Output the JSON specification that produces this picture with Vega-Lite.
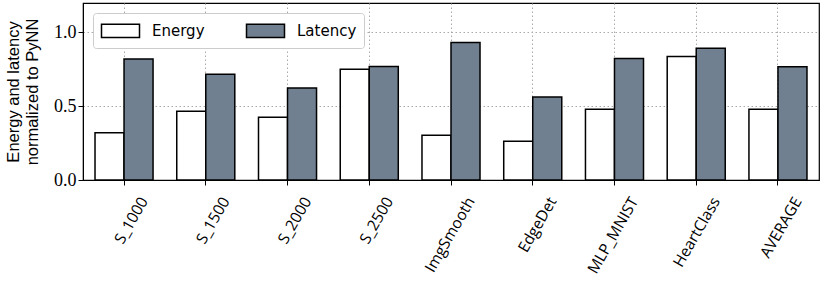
{
  "$schema": "https://vega.github.io/schema/vega-lite/v6.json",
  "width": 736,
  "height": 177,
  "autosize": {"type": "none"},
  "padding": {"left": 83, "top": 3, "right": 3, "bottom": 109},
  "background": "white",
  "config": {
    "view": {"stroke": "black", "strokeWidth": 1.2},
    "font": "DejaVu Sans"
  },
  "data": {
    "values": [
      {"bench": "S_1000", "metric": "Energy", "value": 0.32},
      {"bench": "S_1000", "metric": "Latency", "value": 0.82},
      {"bench": "S_1500", "metric": "Energy", "value": 0.466},
      {"bench": "S_1500", "metric": "Latency", "value": 0.717},
      {"bench": "S_2000", "metric": "Energy", "value": 0.425},
      {"bench": "S_2000", "metric": "Latency", "value": 0.624},
      {"bench": "S_2500", "metric": "Energy", "value": 0.751},
      {"bench": "S_2500", "metric": "Latency", "value": 0.769},
      {"bench": "ImgSmooth", "metric": "Energy", "value": 0.303},
      {"bench": "ImgSmooth", "metric": "Latency", "value": 0.932},
      {"bench": "EdgeDet", "metric": "Energy", "value": 0.263},
      {"bench": "EdgeDet", "metric": "Latency", "value": 0.563},
      {"bench": "MLP_MNIST", "metric": "Energy", "value": 0.48},
      {"bench": "MLP_MNIST", "metric": "Latency", "value": 0.824},
      {"bench": "HeartClass", "metric": "Energy", "value": 0.837},
      {"bench": "HeartClass", "metric": "Latency", "value": 0.893},
      {"bench": "AVERAGE", "metric": "Energy", "value": 0.48},
      {"bench": "AVERAGE", "metric": "Latency", "value": 0.767}
    ]
  },
  "mark": {"type": "bar", "stroke": "black", "strokeWidth": 1.5},
  "encoding": {
    "x": {
      "field": "bench",
      "type": "nominal",
      "sort": null,
      "scale": {"paddingInner": 0.29, "paddingOuter": 0.147},
      "axis": {
        "title": null,
        "labelAngle": -60,
        "labelAlign": "right",
        "labelBaseline": "middle",
        "labelOffset": 20,
        "labelPadding": 13,
        "labelFontSize": 15.5,
        "labelColor": "black",
        "labelFont": "Open Sans",
        "domainColor": "black",
        "tickColor": "black",
        "tickSize": 5,
        "bandPosition": 0.5,
        "grid": true,
        "gridColor": "#aaaaaa",
        "gridDash": [1.5, 2.5],
        "gridWidth": 1
      }
    },
    "xOffset": {"field": "metric", "type": "nominal", "sort": ["Energy", "Latency"]},
    "y": {
      "field": "value",
      "type": "quantitative",
      "scale": {"domain": [0, 1.2], "nice": false},
      "axis": {
        "title": ["Energy and latency", "normalized to PyNN"],
        "titleFont": "Liberation Sans",
        "titleFontSize": 16.5,
        "titleFontWeight": "normal",
        "titleColor": "black",
        "titlePadding": 13,
        "titleLineHeight": 19,
        "values": [0, 0.5, 1.0],
        "format": ".1f",
        "labelFont": "Liberation Serif",
        "labelFontSize": 18,
        "labelColor": "black",
        "domainColor": "black",
        "tickColor": "black",
        "tickSize": 5,
        "grid": true,
        "gridColor": "#aaaaaa",
        "gridDash": [1.5, 2.5],
        "gridWidth": 1
      }
    },
    "fill": {
      "field": "metric",
      "type": "nominal",
      "scale": {"domain": ["Energy", "Latency"], "range": ["white", "#708090"]},
      "legend": {
        "title": null,
        "orient": "top-left",
        "offset": 10,
        "direction": "horizontal",
        "columns": 2,
        "columnPadding": 38,
        "symbolType": "M-2,-0.7h4v1.4h-4z",
        "symbolSize": 361,
        "symbolOffset": 10,
        "symbolStrokeColor": "black",
        "symbolStrokeWidth": 1.5,
        "labelFont": "DejaVu Sans",
        "labelFontSize": 15,
        "labelColor": "black",
        "labelOffset": 21,
        "fillColor": "white",
        "strokeColor": "#cccccc",
        "cornerRadius": 3,
        "padding": 7
      }
    }
  }
}
